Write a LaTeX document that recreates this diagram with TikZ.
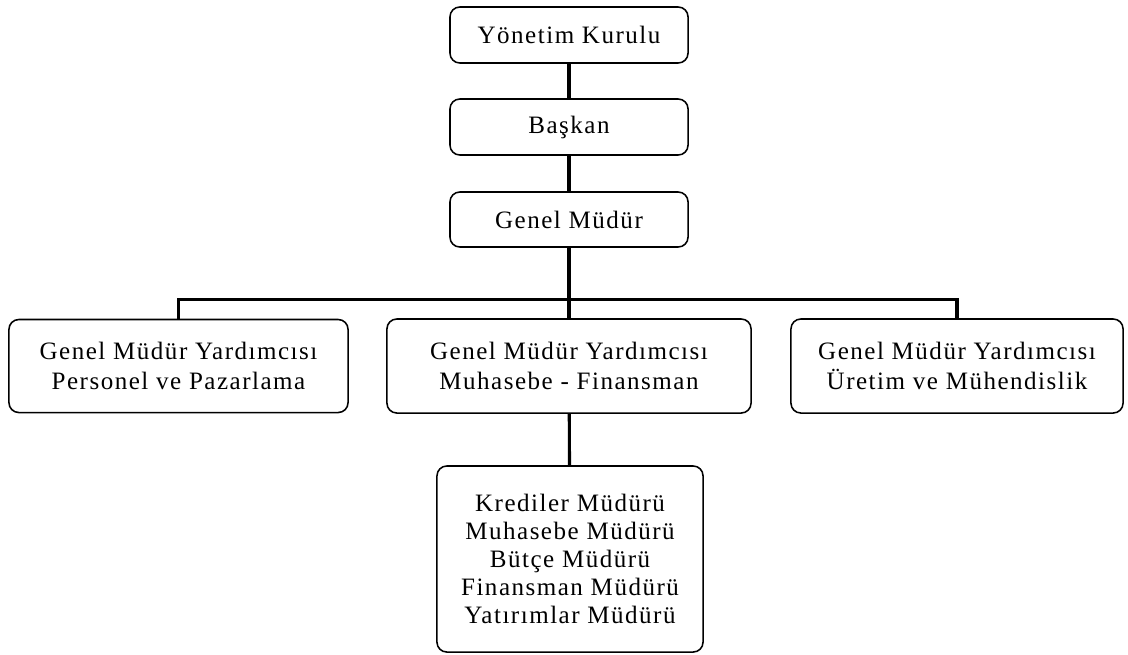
\documentclass[tikz,border=0pt]{standalone}
\usepackage{fontspec}
\setmainfont{Liberation Serif}[LetterSpace=6]
\usepackage{tikz}
\usetikzlibrary{positioning}

\begin{document}
\begin{tikzpicture}[x=0.025cm, y=-0.025cm,
  box/.style={draw, line width=1.1pt, rounded corners=7pt, align=center, inner sep=0pt,
    font=\fontsize{17.8pt}{21pt}\selectfont},
  link/.style={line width=2.2pt}]
  \useasboundingbox (0,0) rectangle (1128,654);
  % top of the chart
  \node[box, minimum width=5.95cm, minimum height=1.4cm] (kurul) at (569,35) {Yönetim Kurulu};
  \node[box, minimum width=5.95cm, minimum height=1.4cm] (baskan) at (569,127) {Başkan};
  \node[box, minimum width=5.95cm, minimum height=1.375cm] (gm) at (569,219.5) {Genel Müdür};
  % assistants
  \node[box, minimum width=8.475cm, minimum height=2.325cm] (gmyA) at (178.5,366)
    {Genel Müdür Yardımcısı\\Personel ve Pazarlama};
  \node[box, minimum width=9.1cm, minimum height=2.35cm] (gmyB) at (569,366)
    {Genel Müdür Yardımcısı\\Muhasebe - Finansman};
  \node[box, minimum width=8.3cm, minimum height=2.35cm] (gmyC) at (957,366)
    {Genel Müdür Yardımcısı\\Üretim ve Mühendislik};
  \node[box, minimum width=6.65cm, minimum height=4.65cm,
    font=\fontsize{17.8pt}{19.9pt}\selectfont] (mudur) at (570,559)
    {Krediler Müdürü\\Muhasebe Müdürü\\Bütçe Müdürü\\Finansman Müdürü\\Yatırımlar Müdürü};

  \draw[link] (kurul) -- (baskan);
  \draw[link] (baskan) -- (gm);
  \draw[link] (gm) -- (gmyB);
  \draw[link] (gmyA.north) -- ++(0,-19) -| (gmyC.north);
  \draw[link] (gmyB) -- (mudur);
\end{tikzpicture}
\end{document}
